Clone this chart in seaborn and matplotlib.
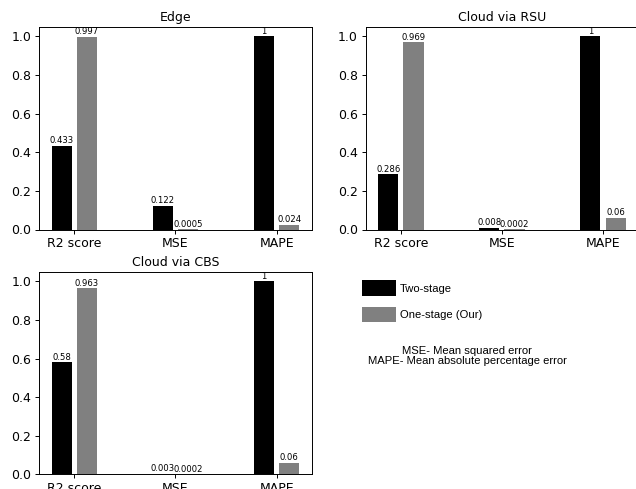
import matplotlib
matplotlib.use("Agg")
import matplotlib.pyplot as plt
from matplotlib.patches import Patch
import seaborn as sns
import pandas as pd

categories = ["R2 score", "MSE", "MAPE"]
methods = ["Two-stage", "One-stage (Our)"]
edge_two = [0.433, 0.122, 1]
edge_one = [0.997, 0.0005, 0.024]
rsu_two = [0.286, 0.008, 1]
rsu_one = [0.969, 0.0002, 0.06]
cbs_two = [0.58, 0.003, 1]
cbs_one = [0.963, 0.0002, 0.06]
titles = ["Edge", "Cloud via RSU", "Cloud via CBS"]
colors = ["black", "grey"]

DPI = 87
fig = plt.figure(figsize=(636 / DPI, 489 / DPI), dpi=DPI)

positions = [
    [39.3 / 636, 1 - 229.5 / 489, 272.4 / 636, 202.8 / 489],
    [365.7 / 636, 1 - 229.5 / 489, 272.4 / 636, 202.8 / 489],
    [39.3 / 636, 1 - 474.3 / 489, 272.4 / 636, 202.6 / 489],
]
series = [(edge_two, edge_one), (rsu_two, rsu_one), (cbs_two, cbs_one)]

for pos, (two, one), title in zip(positions, series, titles):
    ax = fig.add_axes(pos)
    df = pd.DataFrame({
        "metric": categories * 2,
        "value": list(two) + list(one),
        "method": [methods[0]] * len(categories) + [methods[1]] * len(categories),
    })
    sns.barplot(data=df, x="metric", y="value", hue="method", order=categories,
                hue_order=methods, palette=colors, saturation=1, width=0.5, gap=0.2,
                errorbar=None, legend=False, ax=ax)
    for c in ax.containers:
        ax.bar_label(c, fmt="%g", fontsize=7, padding=0.5)
    ax.set_xlim(-0.3475, 2.3475)
    ax.set_ylim(0, 1.05)
    ax.set_xlabel("")
    ax.set_ylabel("")
    ax.set_title(title, fontsize=10.3, pad=5)
    ax.tick_params(labelsize=10.3, pad=3)

handles = [Patch(facecolor=colors[0], edgecolor="none"),
           Patch(facecolor=colors[1], edgecolor="none")]
fig.legend(handles, methods, loc="upper left",
           bbox_to_anchor=(362 / 636, 1 - 280 / 489), frameon=False,
           borderpad=0, borderaxespad=0, handlelength=3.0, handleheight=1.8,
           handletextpad=0.36, labelspacing=0.95,
           prop={"family": "Liberation Sans", "size": 9.3})

fig.text(467 / 636, 1 - 356 / 489,
         "MSE- Mean squared error\nMAPE- Mean absolute percentage error",
         ha="center", va="center", multialignment="center", linespacing=1.05,
         family="Liberation Sans", fontsize=9.3)

fig.savefig("out.png", dpi=DPI)
